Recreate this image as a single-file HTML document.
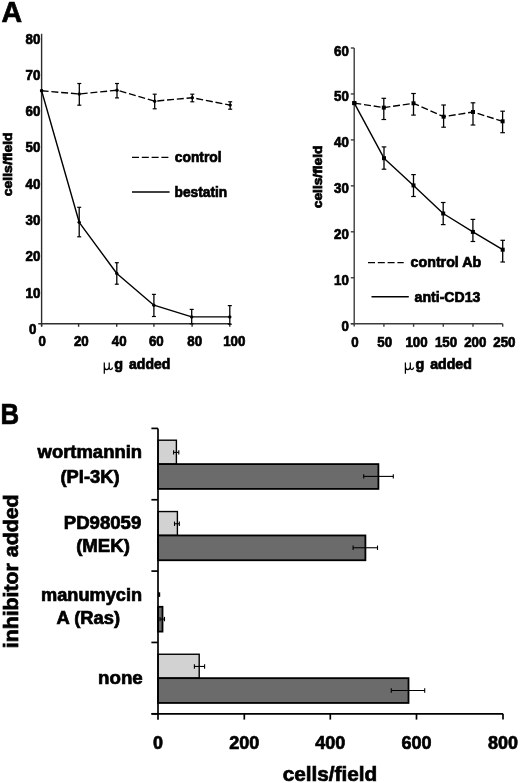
<!DOCTYPE html>
<html><head><meta charset="utf-8"><style>
html,body{margin:0;padding:0;background:#fff;}
svg{display:block;filter:grayscale(100%) blur(0.3px);}
text{font-family:"Liberation Sans",sans-serif;fill:#000;stroke:#000;stroke-width:0.7px;}
</style></head><body>
<svg width="520" height="783" viewBox="0 0 520 783">
<rect width="520" height="783" fill="#fff"/>
<text x="1.5" y="22" font-size="29.5" font-weight="bold" text-anchor="start" textLength="20.6" lengthAdjust="spacingAndGlyphs" >A</text>
<line x1="41.6" y1="33.8" x2="41.6" y2="326.3" stroke="#2e2e2e" stroke-width="1.4" />
<line x1="38.2" y1="323.8" x2="230.3" y2="323.8" stroke="#2e2e2e" stroke-width="1.6" />
<line x1="41.6" y1="323.8" x2="41.6" y2="326.8" stroke="#2e2e2e" stroke-width="1.4" />
<line x1="78.6" y1="323.8" x2="78.6" y2="326.8" stroke="#2e2e2e" stroke-width="1.4" />
<line x1="116.7" y1="323.8" x2="116.7" y2="326.8" stroke="#2e2e2e" stroke-width="1.4" />
<line x1="153.9" y1="323.8" x2="153.9" y2="326.8" stroke="#2e2e2e" stroke-width="1.4" />
<line x1="192.1" y1="323.8" x2="192.1" y2="326.8" stroke="#2e2e2e" stroke-width="1.4" />
<line x1="229.8" y1="323.8" x2="229.8" y2="326.8" stroke="#2e2e2e" stroke-width="1.4" />
<text x="40.4" y="43.5" font-size="14" font-weight="bold" text-anchor="end" textLength="14.79" lengthAdjust="spacingAndGlyphs" >80</text>
<text x="40.4" y="79.8" font-size="14" font-weight="bold" text-anchor="end" textLength="14.79" lengthAdjust="spacingAndGlyphs" >70</text>
<text x="40.4" y="116.1" font-size="14" font-weight="bold" text-anchor="end" textLength="14.79" lengthAdjust="spacingAndGlyphs" >60</text>
<text x="40.4" y="152.39999999999998" font-size="14" font-weight="bold" text-anchor="end" textLength="14.79" lengthAdjust="spacingAndGlyphs" >50</text>
<text x="40.4" y="188.7" font-size="14" font-weight="bold" text-anchor="end" textLength="14.79" lengthAdjust="spacingAndGlyphs" >40</text>
<text x="40.4" y="225.0" font-size="14" font-weight="bold" text-anchor="end" textLength="14.79" lengthAdjust="spacingAndGlyphs" >30</text>
<text x="40.4" y="261.29999999999995" font-size="14" font-weight="bold" text-anchor="end" textLength="14.79" lengthAdjust="spacingAndGlyphs" >20</text>
<text x="40.4" y="297.59999999999997" font-size="14" font-weight="bold" text-anchor="end" textLength="14.79" lengthAdjust="spacingAndGlyphs" >10</text>
<text x="36.4" y="333.9" font-size="14" font-weight="bold" text-anchor="end" textLength="7.39" lengthAdjust="spacingAndGlyphs" >0</text>
<text x="42.1" y="346.4" font-size="14" font-weight="bold" text-anchor="middle" textLength="7.39" lengthAdjust="spacingAndGlyphs" >0</text>
<text x="81.35" y="346.4" font-size="14" font-weight="bold" text-anchor="middle" textLength="14.79" lengthAdjust="spacingAndGlyphs" >20</text>
<text x="119.15" y="346.4" font-size="14" font-weight="bold" text-anchor="middle" textLength="14.79" lengthAdjust="spacingAndGlyphs" >40</text>
<text x="156.3" y="346.4" font-size="14" font-weight="bold" text-anchor="middle" textLength="14.79" lengthAdjust="spacingAndGlyphs" >60</text>
<text x="194.7" y="346.4" font-size="14" font-weight="bold" text-anchor="middle" textLength="14.79" lengthAdjust="spacingAndGlyphs" >80</text>
<text x="234.3" y="346.4" font-size="14" font-weight="bold" text-anchor="middle" textLength="22.18" lengthAdjust="spacingAndGlyphs" >100</text>
<path d="M1.2 0 L1.2 11.1 M1.2 4 Q1.2 7 3.5 7 Q6.0 7 6.1 4 M6.1 0 L6.1 5.4 Q6.4 7 7.6 7 Q9.0 6.8 9.5 4.9" transform="translate(103.1,362.6)" fill="none" stroke="#000" stroke-width="1.25"/>
<text x="114.3" y="369.3" font-size="14.5" font-weight="bold" text-anchor="start" textLength="8.8" lengthAdjust="spacingAndGlyphs" >g</text>
<text x="129.1" y="369.2" font-size="14.2" font-weight="bold" text-anchor="start" textLength="41.2" lengthAdjust="spacingAndGlyphs" >added</text>
<text x="0" y="0" font-size="12.2" font-weight="bold" text-anchor="middle" transform="translate(12.4,164.3) rotate(-90)" textLength="64" lengthAdjust="spacingAndGlyphs">cells/field</text>
<polyline points="41.6,90.8 79.3,94.0 117.0,90.2 154.7,101.2 192.3,97.7 230.2,105.1" fill="none" stroke="#000" stroke-width="1.4" stroke-dasharray="7,2.8" stroke-linejoin="round"/>
<polyline points="41.6,90.8 79.2,222.3 116.8,273.5 153.9,305.2 191.7,316.9 229.8,316.9" fill="none" stroke="#000" stroke-width="1.4" stroke-linejoin="round"/>
<circle cx="41.6" cy="90.8" r="1.7" fill="#000"/>
<circle cx="79.3" cy="94.0" r="1.7" fill="#000"/>
<line x1="79.3" y1="83.5" x2="79.3" y2="105.2" stroke="#000" stroke-width="1.3" />
<line x1="77.3" y1="83.5" x2="81.3" y2="83.5" stroke="#000" stroke-width="1.2" />
<line x1="77.3" y1="105.2" x2="81.3" y2="105.2" stroke="#000" stroke-width="1.2" />
<circle cx="117.0" cy="90.2" r="1.7" fill="#000"/>
<line x1="117.0" y1="83.5" x2="117.0" y2="97.9" stroke="#000" stroke-width="1.3" />
<line x1="115.0" y1="83.5" x2="119.0" y2="83.5" stroke="#000" stroke-width="1.2" />
<line x1="115.0" y1="97.9" x2="119.0" y2="97.9" stroke="#000" stroke-width="1.2" />
<circle cx="154.7" cy="101.2" r="1.7" fill="#000"/>
<line x1="154.7" y1="94.2" x2="154.7" y2="108.8" stroke="#000" stroke-width="1.3" />
<line x1="152.7" y1="94.2" x2="156.7" y2="94.2" stroke="#000" stroke-width="1.2" />
<line x1="152.7" y1="108.8" x2="156.7" y2="108.8" stroke="#000" stroke-width="1.2" />
<circle cx="192.3" cy="97.7" r="1.7" fill="#000"/>
<line x1="192.3" y1="94.2" x2="192.3" y2="101.8" stroke="#000" stroke-width="1.3" />
<line x1="190.3" y1="94.2" x2="194.3" y2="94.2" stroke="#000" stroke-width="1.2" />
<line x1="190.3" y1="101.8" x2="194.3" y2="101.8" stroke="#000" stroke-width="1.2" />
<circle cx="230.2" cy="105.1" r="1.7" fill="#000"/>
<line x1="230.2" y1="101.8" x2="230.2" y2="109.2" stroke="#000" stroke-width="1.3" />
<line x1="228.2" y1="101.8" x2="232.2" y2="101.8" stroke="#000" stroke-width="1.2" />
<line x1="228.2" y1="109.2" x2="232.2" y2="109.2" stroke="#000" stroke-width="1.2" />
<circle cx="41.6" cy="90.8" r="1.7" fill="#000"/>
<circle cx="79.2" cy="222.3" r="1.7" fill="#000"/>
<line x1="79.2" y1="207.3" x2="79.2" y2="236.8" stroke="#000" stroke-width="1.3" />
<line x1="77.2" y1="207.3" x2="81.2" y2="207.3" stroke="#000" stroke-width="1.2" />
<line x1="77.2" y1="236.8" x2="81.2" y2="236.8" stroke="#000" stroke-width="1.2" />
<circle cx="116.8" cy="273.5" r="1.7" fill="#000"/>
<line x1="116.8" y1="262.7" x2="116.8" y2="284.2" stroke="#000" stroke-width="1.3" />
<line x1="114.8" y1="262.7" x2="118.8" y2="262.7" stroke="#000" stroke-width="1.2" />
<line x1="114.8" y1="284.2" x2="118.8" y2="284.2" stroke="#000" stroke-width="1.2" />
<circle cx="153.9" cy="305.2" r="1.7" fill="#000"/>
<line x1="153.9" y1="294.4" x2="153.9" y2="316.5" stroke="#000" stroke-width="1.3" />
<line x1="151.9" y1="294.4" x2="155.9" y2="294.4" stroke="#000" stroke-width="1.2" />
<line x1="151.9" y1="316.5" x2="155.9" y2="316.5" stroke="#000" stroke-width="1.2" />
<circle cx="191.7" cy="316.9" r="1.7" fill="#000"/>
<line x1="191.7" y1="309.4" x2="191.7" y2="323.8" stroke="#000" stroke-width="1.3" />
<line x1="189.7" y1="309.4" x2="193.7" y2="309.4" stroke="#000" stroke-width="1.2" />
<line x1="189.7" y1="323.8" x2="193.7" y2="323.8" stroke="#000" stroke-width="1.2" />
<circle cx="229.8" cy="316.9" r="1.7" fill="#000"/>
<line x1="229.8" y1="305.6" x2="229.8" y2="324.2" stroke="#000" stroke-width="1.3" />
<line x1="227.8" y1="305.6" x2="231.8" y2="305.6" stroke="#000" stroke-width="1.2" />
<line x1="227.8" y1="324.2" x2="231.8" y2="324.2" stroke="#000" stroke-width="1.2" />
<line x1="132" y1="157.3" x2="168.5" y2="157.3" stroke="#000" stroke-width="1.3" stroke-dasharray="7,2.8"/>
<text x="174.8" y="161.9" font-size="14.5" font-weight="bold" text-anchor="start" textLength="46.8" lengthAdjust="spacingAndGlyphs" >control</text>
<line x1="132" y1="192" x2="169.6" y2="192" stroke="#000" stroke-width="1.4" />
<text x="174.6" y="196.5" font-size="14.5" font-weight="bold" text-anchor="start" textLength="52.6" lengthAdjust="spacingAndGlyphs" >bestatin</text>
<line x1="354.2" y1="48" x2="354.2" y2="326.5" stroke="#3c3c3c" stroke-width="1.4" />
<line x1="350.8" y1="323.7" x2="502.7" y2="323.7" stroke="#3c3c3c" stroke-width="1.6" />
<line x1="350.8" y1="48.0" x2="354.2" y2="48.0" stroke="#3c3c3c" stroke-width="1.4" />
<line x1="350.8" y1="93.95" x2="354.2" y2="93.95" stroke="#3c3c3c" stroke-width="1.4" />
<line x1="350.8" y1="139.9" x2="354.2" y2="139.9" stroke="#3c3c3c" stroke-width="1.4" />
<line x1="350.8" y1="185.85000000000002" x2="354.2" y2="185.85000000000002" stroke="#3c3c3c" stroke-width="1.4" />
<line x1="350.8" y1="231.8" x2="354.2" y2="231.8" stroke="#3c3c3c" stroke-width="1.4" />
<line x1="350.8" y1="277.75" x2="354.2" y2="277.75" stroke="#3c3c3c" stroke-width="1.4" />
<line x1="350.8" y1="323.70000000000005" x2="354.2" y2="323.70000000000005" stroke="#3c3c3c" stroke-width="1.4" />
<line x1="383.9" y1="323.7" x2="383.9" y2="326.8" stroke="#3c3c3c" stroke-width="1.4" />
<line x1="413.59999999999997" y1="323.7" x2="413.59999999999997" y2="326.8" stroke="#3c3c3c" stroke-width="1.4" />
<line x1="443.29999999999995" y1="323.7" x2="443.29999999999995" y2="326.8" stroke="#3c3c3c" stroke-width="1.4" />
<line x1="473.0" y1="323.7" x2="473.0" y2="326.8" stroke="#3c3c3c" stroke-width="1.4" />
<line x1="502.7" y1="323.7" x2="502.7" y2="326.8" stroke="#3c3c3c" stroke-width="1.4" />
<text x="348.9" y="55.5" font-size="14" font-weight="bold" text-anchor="end" textLength="14.79" lengthAdjust="spacingAndGlyphs" >60</text>
<text x="348.9" y="101.45" font-size="14" font-weight="bold" text-anchor="end" textLength="14.79" lengthAdjust="spacingAndGlyphs" >50</text>
<text x="348.9" y="147.4" font-size="14" font-weight="bold" text-anchor="end" textLength="14.79" lengthAdjust="spacingAndGlyphs" >40</text>
<text x="348.9" y="193.35000000000002" font-size="14" font-weight="bold" text-anchor="end" textLength="14.79" lengthAdjust="spacingAndGlyphs" >30</text>
<text x="348.9" y="239.3" font-size="14" font-weight="bold" text-anchor="end" textLength="14.79" lengthAdjust="spacingAndGlyphs" >20</text>
<text x="348.9" y="285.25" font-size="14" font-weight="bold" text-anchor="end" textLength="14.79" lengthAdjust="spacingAndGlyphs" >10</text>
<text x="348.9" y="331.20000000000005" font-size="14" font-weight="bold" text-anchor="end" textLength="7.39" lengthAdjust="spacingAndGlyphs" >0</text>
<text x="354.9" y="347.3" font-size="14" font-weight="bold" text-anchor="middle" textLength="7.39" lengthAdjust="spacingAndGlyphs" >0</text>
<text x="384.7" y="347.3" font-size="14" font-weight="bold" text-anchor="middle" textLength="14.79" lengthAdjust="spacingAndGlyphs" >50</text>
<text x="416.5" y="347.3" font-size="14" font-weight="bold" text-anchor="middle" textLength="22.18" lengthAdjust="spacingAndGlyphs" >100</text>
<text x="446" y="347.3" font-size="14" font-weight="bold" text-anchor="middle" textLength="22.18" lengthAdjust="spacingAndGlyphs" >150</text>
<text x="475.25" y="347.3" font-size="14" font-weight="bold" text-anchor="middle" textLength="22.18" lengthAdjust="spacingAndGlyphs" >200</text>
<text x="504.4" y="347.3" font-size="14" font-weight="bold" text-anchor="middle" textLength="22.18" lengthAdjust="spacingAndGlyphs" >250</text>
<path d="M1.2 0 L1.2 11.1 M1.2 4 Q1.2 7 3.5 7 Q6.0 7 6.1 4 M6.1 0 L6.1 5.4 Q6.4 7 7.6 7 Q9.0 6.8 9.5 4.9" transform="translate(404.2,362.6)" fill="none" stroke="#000" stroke-width="1.25"/>
<text x="415.5" y="369.3" font-size="14.5" font-weight="bold" text-anchor="start" textLength="8.8" lengthAdjust="spacingAndGlyphs" >g</text>
<text x="430.2" y="369.2" font-size="14.2" font-weight="bold" text-anchor="start" textLength="41.6" lengthAdjust="spacingAndGlyphs" >added</text>
<text x="0" y="0" font-size="12.2" font-weight="bold" text-anchor="middle" transform="translate(321.6,176.9) rotate(-90)" textLength="62.6" lengthAdjust="spacingAndGlyphs">cells/field</text>
<polyline points="354.3,103.1 383.8,107.6 413.5,103.3 443.6,116.7 473.0,112.0 502.6,121.3" fill="none" stroke="#000" stroke-width="1.4" stroke-dasharray="7,2.8" stroke-linejoin="round"/>
<polyline points="354.3,103.1 384.0,158.2 413.5,185.4 443.2,213.5 472.9,231.9 502.7,249.7" fill="none" stroke="#000" stroke-width="1.4" stroke-linejoin="round"/>
<rect x="352.3" y="101.1" width="4" height="4" fill="#000"/>
<rect x="381.8" y="105.6" width="4" height="4" fill="#000"/>
<line x1="383.8" y1="98.3" x2="383.8" y2="119.5" stroke="#000" stroke-width="1.3" />
<line x1="381.5" y1="98.3" x2="386.1" y2="98.3" stroke="#000" stroke-width="1.2" />
<line x1="381.5" y1="119.5" x2="386.1" y2="119.5" stroke="#000" stroke-width="1.2" />
<rect x="411.5" y="101.3" width="4" height="4" fill="#000"/>
<line x1="413.5" y1="93.5" x2="413.5" y2="115.1" stroke="#000" stroke-width="1.3" />
<line x1="411.2" y1="93.5" x2="415.8" y2="93.5" stroke="#000" stroke-width="1.2" />
<line x1="411.2" y1="115.1" x2="415.8" y2="115.1" stroke="#000" stroke-width="1.2" />
<rect x="441.6" y="114.7" width="4" height="4" fill="#000"/>
<line x1="443.6" y1="105.0" x2="443.6" y2="127.2" stroke="#000" stroke-width="1.3" />
<line x1="441.3" y1="105.0" x2="445.90000000000003" y2="105.0" stroke="#000" stroke-width="1.2" />
<line x1="441.3" y1="127.2" x2="445.90000000000003" y2="127.2" stroke="#000" stroke-width="1.2" />
<rect x="471.0" y="110.0" width="4" height="4" fill="#000"/>
<line x1="473.0" y1="102.8" x2="473.0" y2="125.0" stroke="#000" stroke-width="1.3" />
<line x1="470.7" y1="102.8" x2="475.3" y2="102.8" stroke="#000" stroke-width="1.2" />
<line x1="470.7" y1="125.0" x2="475.3" y2="125.0" stroke="#000" stroke-width="1.2" />
<rect x="500.6" y="119.3" width="4" height="4" fill="#000"/>
<line x1="502.6" y1="111.2" x2="502.6" y2="132.7" stroke="#000" stroke-width="1.3" />
<line x1="500.3" y1="111.2" x2="504.90000000000003" y2="111.2" stroke="#000" stroke-width="1.2" />
<line x1="500.3" y1="132.7" x2="504.90000000000003" y2="132.7" stroke="#000" stroke-width="1.2" />
<rect x="352.3" y="101.1" width="4" height="4" fill="#000"/>
<rect x="382.0" y="156.2" width="4" height="4" fill="#000"/>
<line x1="384.0" y1="146.9" x2="384.0" y2="169.2" stroke="#000" stroke-width="1.3" />
<line x1="381.7" y1="146.9" x2="386.3" y2="146.9" stroke="#000" stroke-width="1.2" />
<line x1="381.7" y1="169.2" x2="386.3" y2="169.2" stroke="#000" stroke-width="1.2" />
<rect x="411.5" y="183.4" width="4" height="4" fill="#000"/>
<line x1="413.5" y1="174.6" x2="413.5" y2="196.5" stroke="#000" stroke-width="1.3" />
<line x1="411.2" y1="174.6" x2="415.8" y2="174.6" stroke="#000" stroke-width="1.2" />
<line x1="411.2" y1="196.5" x2="415.8" y2="196.5" stroke="#000" stroke-width="1.2" />
<rect x="441.2" y="211.5" width="4" height="4" fill="#000"/>
<line x1="443.2" y1="202.5" x2="443.2" y2="224.6" stroke="#000" stroke-width="1.3" />
<line x1="440.9" y1="202.5" x2="445.5" y2="202.5" stroke="#000" stroke-width="1.2" />
<line x1="440.9" y1="224.6" x2="445.5" y2="224.6" stroke="#000" stroke-width="1.2" />
<rect x="470.9" y="229.9" width="4" height="4" fill="#000"/>
<line x1="472.9" y1="219.4" x2="472.9" y2="241.5" stroke="#000" stroke-width="1.3" />
<line x1="470.59999999999997" y1="219.4" x2="475.2" y2="219.4" stroke="#000" stroke-width="1.2" />
<line x1="470.59999999999997" y1="241.5" x2="475.2" y2="241.5" stroke="#000" stroke-width="1.2" />
<rect x="500.7" y="247.7" width="4" height="4" fill="#000"/>
<line x1="502.7" y1="240.3" x2="502.7" y2="262.0" stroke="#000" stroke-width="1.3" />
<line x1="500.4" y1="240.3" x2="505.0" y2="240.3" stroke="#000" stroke-width="1.2" />
<line x1="500.4" y1="262.0" x2="505.0" y2="262.0" stroke="#000" stroke-width="1.2" />
<line x1="368" y1="262.6" x2="403.7" y2="262.6" stroke="#000" stroke-width="1.3" stroke-dasharray="7,2.8"/>
<text x="410.6" y="266.8" font-size="14.5" font-weight="bold" text-anchor="start" textLength="70.6" lengthAdjust="spacingAndGlyphs" >control Ab</text>
<line x1="371.5" y1="296.7" x2="408.8" y2="296.7" stroke="#000" stroke-width="1.4" />
<text x="414.6" y="301.5" font-size="14.5" font-weight="bold" text-anchor="start" textLength="65.8" lengthAdjust="spacingAndGlyphs" >anti-CD13</text>
<text x="0.5" y="423.8" font-size="28.8" font-weight="bold" text-anchor="start" textLength="18.6" lengthAdjust="spacingAndGlyphs" >B</text>
<rect x="158" y="440.2" width="18.400000000000006" height="23.9" fill="#d2d2d2" stroke="#000" stroke-width="1.4"/>
<line x1="173.6" y1="452.4" x2="178.8" y2="452.4" stroke="#000" stroke-width="1.1" />
<line x1="173.6" y1="450.2" x2="173.6" y2="454.59999999999997" stroke="#000" stroke-width="1.1" />
<line x1="178.8" y1="450.2" x2="178.8" y2="454.59999999999997" stroke="#000" stroke-width="1.1" />
<rect x="158" y="464.09999999999997" width="220.39999999999998" height="24.8" fill="#6b6b6b" stroke="#000" stroke-width="1.8"/>
<line x1="363.7" y1="476.4" x2="393.3" y2="476.4" stroke="#000" stroke-width="1.1" />
<line x1="363.7" y1="474.2" x2="363.7" y2="478.59999999999997" stroke="#000" stroke-width="1.1" />
<line x1="393.3" y1="474.2" x2="393.3" y2="478.59999999999997" stroke="#000" stroke-width="1.1" />
<rect x="158" y="511.55" width="19.400000000000006" height="23.9" fill="#d2d2d2" stroke="#000" stroke-width="1.4"/>
<line x1="174.5" y1="523.75" x2="179.3" y2="523.75" stroke="#000" stroke-width="1.1" />
<line x1="174.5" y1="521.55" x2="174.5" y2="525.95" stroke="#000" stroke-width="1.1" />
<line x1="179.3" y1="521.55" x2="179.3" y2="525.95" stroke="#000" stroke-width="1.1" />
<rect x="158" y="535.45" width="207.39999999999998" height="24.8" fill="#6b6b6b" stroke="#000" stroke-width="1.8"/>
<line x1="353.1" y1="547.75" x2="377.5" y2="547.75" stroke="#000" stroke-width="1.1" />
<line x1="353.1" y1="545.55" x2="353.1" y2="549.95" stroke="#000" stroke-width="1.1" />
<line x1="377.5" y1="545.55" x2="377.5" y2="549.95" stroke="#000" stroke-width="1.1" />
<rect x="158" y="592.3" width="2.2" height="4.6" fill="#000"/>
<rect x="158" y="606.8" width="4.5" height="24.8" fill="#6b6b6b" stroke="#000" stroke-width="1.8"/>
<line x1="160.0" y1="619.0999999999999" x2="164.5" y2="619.0999999999999" stroke="#000" stroke-width="1.1" />
<line x1="160.0" y1="616.8999999999999" x2="160.0" y2="621.3" stroke="#000" stroke-width="1.1" />
<line x1="164.5" y1="616.8999999999999" x2="164.5" y2="621.3" stroke="#000" stroke-width="1.1" />
<rect x="158" y="654.2499999999999" width="41.19999999999999" height="23.9" fill="#d2d2d2" stroke="#000" stroke-width="1.4"/>
<line x1="194.4" y1="666.4499999999999" x2="204.6" y2="666.4499999999999" stroke="#000" stroke-width="1.1" />
<line x1="194.4" y1="664.2499999999999" x2="194.4" y2="668.65" stroke="#000" stroke-width="1.1" />
<line x1="204.6" y1="664.2499999999999" x2="204.6" y2="668.65" stroke="#000" stroke-width="1.1" />
<rect x="158" y="678.15" width="250.5" height="24.8" fill="#6b6b6b" stroke="#000" stroke-width="1.8"/>
<line x1="391.3" y1="690.4499999999999" x2="424.7" y2="690.4499999999999" stroke="#000" stroke-width="1.1" />
<line x1="391.3" y1="688.2499999999999" x2="391.3" y2="692.65" stroke="#000" stroke-width="1.1" />
<line x1="424.7" y1="688.2499999999999" x2="424.7" y2="692.65" stroke="#000" stroke-width="1.1" />
<line x1="158" y1="428.4" x2="158" y2="719.8" stroke="#000" stroke-width="1.7" />
<line x1="151.5" y1="713.8" x2="503" y2="713.8" stroke="#000" stroke-width="1.7" />
<line x1="151.4" y1="428.4" x2="158" y2="428.4" stroke="#000" stroke-width="1.7" />
<line x1="151.4" y1="499.75" x2="158" y2="499.75" stroke="#000" stroke-width="1.7" />
<line x1="151.4" y1="571.0999999999999" x2="158" y2="571.0999999999999" stroke="#000" stroke-width="1.7" />
<line x1="151.4" y1="642.4499999999999" x2="158" y2="642.4499999999999" stroke="#000" stroke-width="1.7" />
<line x1="151.4" y1="713.8" x2="158" y2="713.8" stroke="#000" stroke-width="1.7" />
<line x1="244.3" y1="713.8" x2="244.3" y2="719.6" stroke="#000" stroke-width="1.7" />
<line x1="330.3" y1="713.8" x2="330.3" y2="719.6" stroke="#000" stroke-width="1.7" />
<line x1="416.5" y1="713.8" x2="416.5" y2="719.6" stroke="#000" stroke-width="1.7" />
<line x1="503" y1="713.8" x2="503" y2="719.6" stroke="#000" stroke-width="1.7" />
<text x="158.0" y="749" font-size="18" font-weight="bold" text-anchor="middle" >0</text>
<text x="244.3" y="749" font-size="18" font-weight="bold" text-anchor="middle" >200</text>
<text x="330.3" y="749" font-size="18" font-weight="bold" text-anchor="middle" >400</text>
<text x="416.5" y="749" font-size="18" font-weight="bold" text-anchor="middle" >600</text>
<text x="503.0" y="749" font-size="18" font-weight="bold" text-anchor="middle" >800</text>
<text x="282.7" y="780.5" font-size="20.5" font-weight="bold" text-anchor="start" textLength="94.6" lengthAdjust="spacingAndGlyphs" >cells/field</text>
<text x="0" y="0" font-size="19.6" font-weight="bold" text-anchor="middle" transform="translate(17.7,571.4) rotate(-90)" textLength="153.8" lengthAdjust="spacingAndGlyphs">inhibitor added</text>
<text x="89.8" y="458" font-size="18" font-weight="bold" text-anchor="middle" textLength="104.5" lengthAdjust="spacingAndGlyphs" >wortmannin</text>
<text x="90" y="482.8" font-size="18" font-weight="bold" text-anchor="middle" textLength="59" lengthAdjust="spacingAndGlyphs" >(PI-3K)</text>
<text x="102.5" y="528.75" font-size="18" font-weight="bold" text-anchor="middle" textLength="77.5" lengthAdjust="spacingAndGlyphs" >PD98059</text>
<text x="103" y="552" font-size="18" font-weight="bold" text-anchor="middle" textLength="53.75" lengthAdjust="spacingAndGlyphs" >(MEK)</text>
<text x="91.6" y="600.6" font-size="18" font-weight="bold" text-anchor="middle" textLength="101" lengthAdjust="spacingAndGlyphs" >manumycin</text>
<text x="88.3" y="623.8" font-size="18" font-weight="bold" text-anchor="middle" textLength="63.5" lengthAdjust="spacingAndGlyphs" >A (Ras)</text>
<text x="120.4" y="683.8" font-size="18" font-weight="bold" text-anchor="middle" textLength="44.7" lengthAdjust="spacingAndGlyphs" >none</text>
</svg>
</body></html>
